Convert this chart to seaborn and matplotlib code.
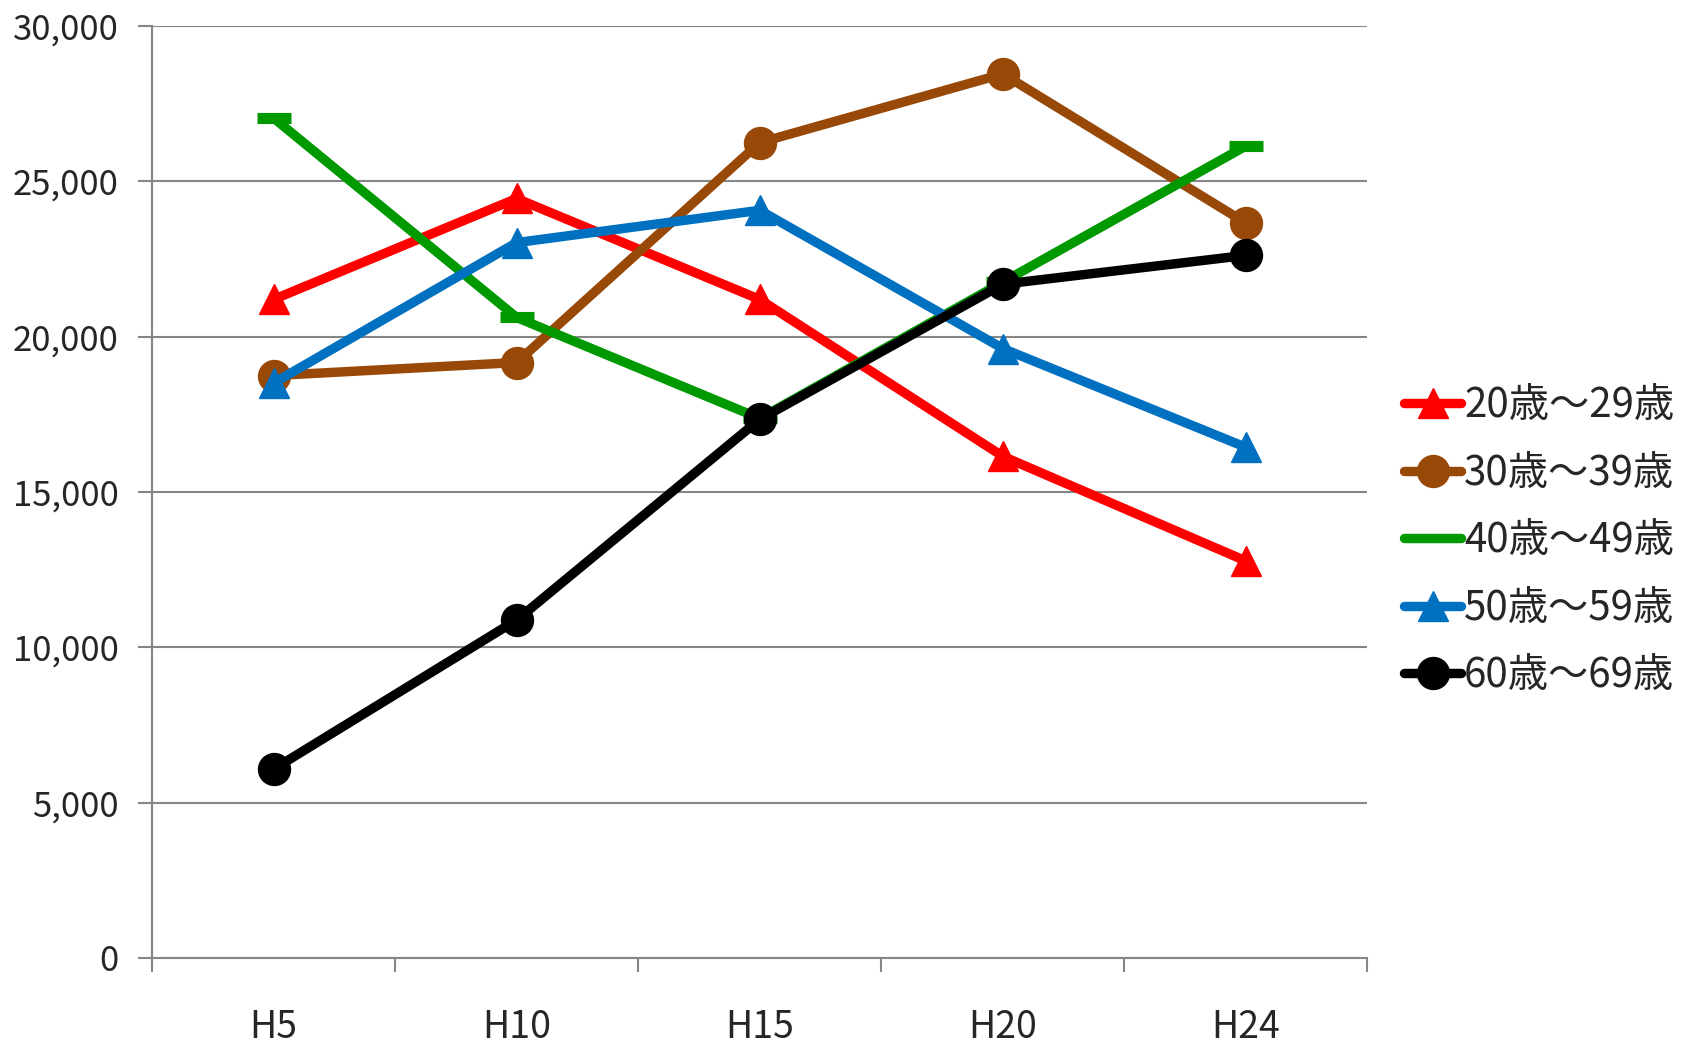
import numpy as np
import pandas as pd
import seaborn as sns
import matplotlib.pyplot as plt
from matplotlib.lines import Line2D
from matplotlib.ticker import FuncFormatter

years = ['H5', 'H10', 'H15', 'H20', 'H24']
groups = ['20歳～29歳', '30歳～39歳', '40歳～49歳', '50歳～59歳', '60歳～69歳']

age_20s = [21200, 24450, 21200, 16150, 12780]
age_30s = [18750, 19170, 26250, 28460, 23660]
age_40s = [27040, 20620, 17370, 21760, 26140]
age_50s = [18510, 23030, 24070, 19620, 16440]
age_60s = [6080, 10880, 17340, 21690, 22620]

colors = ['#ff0000', '#984807', '#009900', '#0070c0', '#000000']
markers = ['^', 'o', '_', '^', 'o']

sns.set_style('white')
plt.rcParams['font.family'] = ['Noto Sans CJK JP', 'DejaVu Sans']

fig = plt.figure(figsize=(16.82, 10.44), dpi=100)
ax = fig.add_axes([0.0904, 0.0824, 0.7226, 0.8926])

series = [age_20s, age_30s, age_40s, age_50s, age_60s]
df = pd.DataFrame({'year': np.tile(np.arange(len(years)), len(groups)),
                   'value': np.concatenate(series),
                   'group': np.repeat(groups, len(years))})

LW = 6.8
msize = {'o': 23, '^': 22}

for g, c, m in zip(groups, colors, markers):
    d = df[df['group'] == g]
    if m == '_':
        sns.lineplot(data=d, x='year', y='value', ax=ax, color=c, lw=LW,
                     marker=m, markersize=24, markeredgewidth=8, markeredgecolor=c,
                     solid_capstyle='round', zorder=3)
    else:
        sns.lineplot(data=d, x='year', y='value', ax=ax, color=c, lw=LW,
                     marker=m, markersize=msize[m],
                     markeredgecolor=c, markeredgewidth=1,
                     solid_capstyle='round', zorder=3)

ax.set_xlim(-0.5, len(years) - 0.5)
ax.set_ylim(0, 30000)
ax.set_yticks(np.arange(0, 30001, 5000))
ax.yaxis.set_major_formatter(FuncFormatter(lambda v, p: f'{int(v):,}'))
ax.set_xticks(np.arange(-0.5, len(years), 1.0))
ax.set_xticklabels([])
ax.set_xticks(np.arange(len(years)), minor=True)
ax.set_xticklabels(years, minor=True)
ax.tick_params(axis='x', which='minor', bottom=False, length=0, pad=36, labelsize=27)
ax.tick_params(axis='x', which='major', bottom=True, length=10, width=1.5, color='#868686', direction='out')
ax.tick_params(axis='y', left=True, length=10, width=1.5, color='#868686', direction='out', labelsize=25, pad=14)
ax.set_xlabel('')
ax.set_ylabel('')

ax.grid(axis='y', color='#868686', lw=1.5)
ax.grid(axis='x', visible=False)
ax.set_axisbelow(True)
for s in ['top', 'right']:
    ax.spines[s].set_visible(False)
for s in ['left', 'bottom']:
    ax.spines[s].set_color('#868686')
    ax.spines[s].set_linewidth(1.5)

handles = []
for g, c, m in zip(groups, colors, markers):
    if m == '_':
        handles.append(Line2D([], [], color=c, lw=LW, solid_capstyle='round'))
    else:
        handles.append(Line2D([], [], color=c, lw=LW, marker=m,
                              markersize=msize[m], solid_capstyle='round'))
fig.legend(handles=handles, labels=groups, loc='center left', bbox_to_anchor=(0.835, 0.482),
           frameon=False, fontsize=29, handlelength=1.4, handletextpad=0.08,
           labelspacing=0.66, borderaxespad=0, borderpad=0)

fig.savefig('out.png', dpi=100)
